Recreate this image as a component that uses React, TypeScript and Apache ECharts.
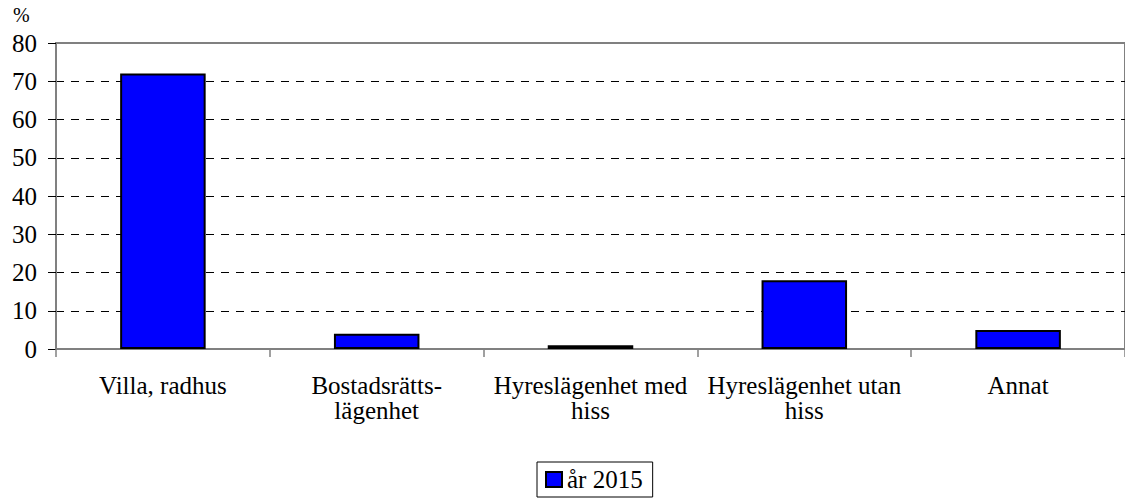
import React, { useEffect, useRef } from "react";
import * as echarts from "echarts";

const categories = [
  "Villa, radhus",
  "Bostadsrätts-\nlägenhet",
  "Hyreslägenhet med\nhiss",
  "Hyreslägenhet utan\nhiss",
  "Annat",
];
const values2015 = [72, 4, 1, 18, 5];
const seriesName = "år 2015";
const yUnit = "%";

const FONT = "'Liberation Serif', 'Times New Roman', serif";

export default function App() {
  const ref = useRef<HTMLDivElement>(null);
  useEffect(() => {
    const chart = echarts.init(ref.current!, null, { renderer: "svg" });
    chart.setOption({
      animation: false,
      backgroundColor: "#fff",
      textStyle: { fontFamily: FONT },
      grid: {
        left: 56,
        right: -4,
        top: 43,
        bottom: 150,
        show: true,
        borderColor: "#808080",
        borderWidth: 2,
      },
      graphic: [
        {
          type: "text",
          left: 13,
          top: 5,
          style: { text: yUnit, fontSize: 20, fontFamily: FONT, fill: "#000" },
        },
      ],
      legend: {
        data: [seriesName],
        bottom: 2,
        left: 537,
        itemWidth: 16,
        itemHeight: 15,
        itemGap: 6,
        icon: "rect",
        borderColor: "#000",
        borderWidth: 1,
        borderRadius: 0,
        padding: [5, 10, 5, 8],
        textStyle: { fontSize: 25, fontFamily: FONT, color: "#000" },
      },
      xAxis: {
        type: "category",
        data: categories,
        axisLine: { lineStyle: { color: "#808080", width: 2 } },
        axisTick: { show: true, length: 8, lineStyle: { color: "#808080", width: 1.5 } },
        axisLabel: {
          fontSize: 25,
          fontFamily: FONT,
          color: "#000",
          margin: 24,
          lineHeight: 25,
          interval: 0,
        },
      },
      yAxis: {
        type: "value",
        min: 0,
        max: 80,
        interval: 10,
        axisLine: { show: true, lineStyle: { color: "#808080", width: 2 } },
        axisTick: { show: true, length: 8, lineStyle: { color: "#000", width: 1 } },
        axisLabel: { fontSize: 25, fontFamily: FONT, color: "#000", margin: 19 },
        splitLine: {
          show: true,
          lineStyle: {
            color: ["#000", "#000", "#000", "#000", "#000", "#000", "#000", "#000", "rgba(0,0,0,0)"],
            type: [8, 7],
            width: 1,
          },
        },
      },
      series: [
        {
          name: seriesName,
          type: "bar",
          data: values2015,
          barWidth: "40%",
          itemStyle: { color: "#0000FF", borderColor: "#000", borderWidth: 2 },
        },
      ],
    });
    return () => chart.dispose();
  }, []);
  return (
    <div
      ref={ref}
      style={{ position: "fixed", left: 0, top: 0, width: 1125, height: 499 }}
    />
  );
}
